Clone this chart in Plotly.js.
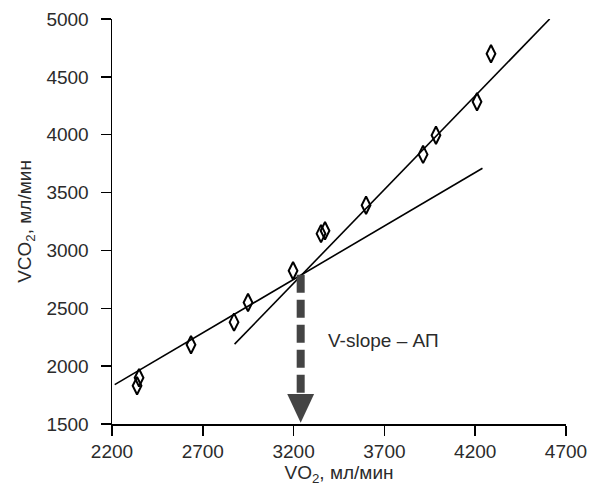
<!DOCTYPE html>
<html>
<head>
<meta charset="utf-8">
<script src="https://cdn.plot.ly/plotly-3.0.1.min.js"></script>
<style>html,body{margin:0;padding:0;background:#fff;}#chart{width:596px;height:486px;}</style>
</head>
<body>
<div id="chart"></div>
<script>
// Measured points (VO2, VCO2)
var vo2 = [2338, 2349, 2635, 2872, 2949, 3197, 3351, 3373, 3599, 3913, 3984, 4210, 4287];
var vco2 = [1830, 1900, 2185, 2380, 2550, 2825, 3145, 3170, 3390, 3830, 3995, 4285, 4700];

// Regression line 1 (lower slope)
var line1X = [2215, 4240];
var line1Y = [1840, 3710];
// Regression line 2 (steeper slope)
var line2X = [2875, 4610];
var line2Y = [2190, 5000];

// Threshold arrow (V-slope – АП)
var arrowX = 3239;
var arrowTopY = 2790;
var arrowHeadTopY = 1760;
var arrowTipY = 1510;
var arrowHeadHalfW = 74;
var arrowLabel = "V-slope – АП";
var labelX = 3380;
var labelY = 2225;

var xTitle = "VO<sub>2</sub>, мл/мин";
var yTitle = "VCO<sub>2</sub>, мл/мин";

var textColor = "#2b2b2b";
var fontFam = "Liberation Sans, Arial, Helvetica, sans-serif";

var traces = [
  {x: line1X, y: line1Y, mode: "lines", line: {color: "#000", width: 1.6}, hoverinfo: "skip"},
  {x: line2X, y: line2Y, mode: "lines", line: {color: "#000", width: 1.6}, hoverinfo: "skip"},
  {x: [arrowX, arrowX], y: [arrowTopY, arrowHeadTopY], mode: "lines",
   line: {color: "#444", width: 8, dash: "18px,7px"}, hoverinfo: "skip"},
  {x: vo2, y: vco2, mode: "markers",
   marker: {symbol: "diamond-tall-open", size: 12.5, color: "#000", line: {color: "#000", width: 2}}}
];

var layout = {
  width: 596, height: 486,
  margin: {l: 112, r: 30, t: 19, b: 62},
  showlegend: false,
  paper_bgcolor: "#fff", plot_bgcolor: "#fff",
  font: {family: fontFam, size: 19, color: textColor},
  xaxis: {
    range: [2200, 4700], dtick: 500, tick0: 2200,
    showgrid: false, zeroline: false, showline: true, linecolor: "#000", linewidth: 1.5,
    ticks: "outside", ticklen: 10, tickwidth: 1.5, tickcolor: "#000",
    tickfont: {size: 19, color: textColor},
    title: {text: xTitle, font: {size: 19, color: textColor}, standoff: 20}
  },
  yaxis: {
    range: [1500, 5000], dtick: 500, tick0: 1500,
    showgrid: false, zeroline: false, showline: true, linecolor: "#000", linewidth: 1.5,
    ticks: "outside", ticklen: 10, tickwidth: 1.5, tickcolor: "#000",
    ticklabelstandoff: 8,
    tickfont: {size: 19, color: textColor},
    title: {text: yTitle, font: {size: 19, color: textColor}, standoff: 10}
  },
  shapes: [{
    type: "path", xref: "x", yref: "y",
    path: "M " + (arrowX - arrowHeadHalfW) + "," + arrowHeadTopY +
          " L " + (arrowX + arrowHeadHalfW) + "," + arrowHeadTopY +
          " L " + arrowX + "," + arrowTipY + " Z",
    fillcolor: "#444", line: {width: 0}
  }],
  annotations: [{
    x: labelX, y: labelY, xref: "x", yref: "y", text: arrowLabel, showarrow: false,
    xanchor: "left", yanchor: "middle", font: {size: 19, color: textColor}
  }]
};

Plotly.newPlot("chart", traces, layout, {displayModeBar: false, staticPlot: true});
</script>
</body>
</html>
